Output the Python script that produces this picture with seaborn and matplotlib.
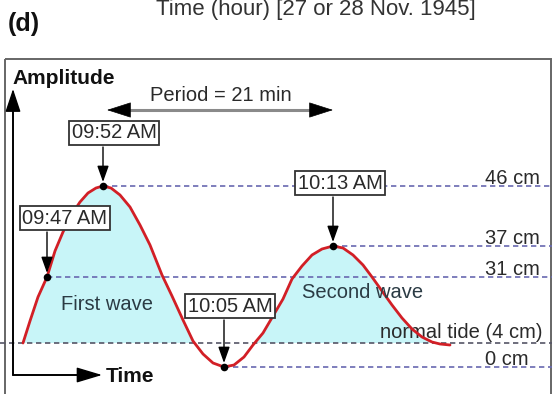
import matplotlib
matplotlib.use("Agg")
import matplotlib.pyplot as plt
from matplotlib.patches import Rectangle
import seaborn as sns

# ---------------- data (schematic positions) ----------------
# wave profile: x = schematic time position, y = schematic amplitude position (rows, downward)
wave_x = [23, 30, 38, 47, 55, 63, 72, 80, 88, 96, 103, 111, 120, 130, 140, 150,
          162, 172, 183, 193, 203, 213, 224, 234, 244, 253, 263, 273, 283, 292,
          302, 312, 322, 333, 343, 353, 363, 372, 382, 392, 402, 412, 422, 432,
          440, 450]
wave_y = [343, 321, 297, 277, 251, 232, 214, 202, 193, 188, 186, 188, 195, 207,
          225, 245, 275, 296, 320, 341, 354, 363, 367, 365, 357, 345, 333, 316,
          299, 279, 266, 255, 249, 246, 248, 255, 265, 277, 291, 305, 318, 329,
          337, 342, 344, 345]

level_labels = ["46 cm", "37 cm", "31 cm", "normal tide (4 cm)", "0 cm"]
level_y = [186, 246, 277, 343, 367]
level_start = [103, 333, 47, 0, 224]

event_labels = ["09:47 AM", "09:52 AM", "10:05 AM", "10:13 AM"]
event_x = [47, 103, 224, 333]
event_y = [277, 186, 367, 246]
box_y = [218, 133, 306, 183]
box_x = [65, 114, 230, 340]

wave_names = ["First wave", "Second wave"]
wave_name_x = [107, 363]
wave_name_y = [305, 292]

period_label = "Period = 21 min"
title_text = "Time (hour) [27 or 28 Nov. 1945]"
panel_label = "(d)"
normal_tide_y = 343

# ---------------- style ----------------
sns.set_theme(style="white")
plt.rcParams["font.family"] = ["Liberation Sans", "DejaVu Sans"]

fig = plt.figure(figsize=(5.54, 3.94), dpi=100)
ax = fig.add_axes([0, 0, 1, 1])
ax.set_xlim(0, 554)
ax.set_ylim(394, 0)
ax.axis("off")

FS = 14.5
TXT = "#2a2a2a"
DASH = "#6868b0"

# frame
ax.add_patch(Rectangle((5, 59), 546, 360, fill=False, ec="#666666", lw=1.4,
                       zorder=1, clip_on=False))

# title + panel label
ax.text(476, 15, title_text, ha="right", va="baseline", fontsize=16, color="#333333")
ax.text(8, 24, panel_label, ha="left", va="center", fontsize=18, fontweight="bold",
        color="#111111")

# fill under waves (above the normal tide)
ax.fill_between(wave_x, wave_y, normal_tide_y,
                where=[v <= normal_tide_y for v in wave_y], interpolate=True,
                color="#c8f5f8", lw=0, zorder=2)

# dashed level lines
for lab, yy, xs in zip(level_labels, level_y, level_start):
    col = "#555566" if "normal" in lab else DASH
    ax.plot([xs, 552], [yy, yy], ls=(0, (3.2, 2.2)), color=col, lw=1.2, zorder=3)
    if "normal" in lab:
        ax.text(543, yy - 5, lab, ha="right", va="baseline", fontsize=FS, color=TXT, zorder=4)
    else:
        ax.text(485, yy - 2, lab, ha="left", va="baseline", fontsize=FS, color=TXT, zorder=4)

# wave curve
sns.lineplot(x=wave_x, y=wave_y, ax=ax, sort=False, estimator=None,
             color="#d21f26", lw=2.0, zorder=5)

# event points
sns.scatterplot(x=event_x, y=event_y, ax=ax, color="black", s=30, zorder=7,
                edgecolor="black", linewidth=0)

# event boxes and arrows
for lab, ex, ey, bx, by in zip(event_labels, event_x, event_y, box_x, box_y):
    ax.text(bx, by, lab, ha="center", va="center", fontsize=FS, color=TXT, zorder=9,
            bbox=dict(boxstyle="square,pad=0.12", fc="white", ec="#333333", lw=1.3))
    ax.annotate("", xy=(ex, ey - 4), xytext=(ex, by + 14),
                arrowprops=dict(arrowstyle="-|>,head_length=0.7,head_width=0.25",
                                color="black", lw=1.0, mutation_scale=14,
                                shrinkA=0, shrinkB=0), zorder=8)

# wave names
for nm, wx, wy in zip(wave_names, wave_name_x, wave_name_y):
    ax.text(wx, wy, nm, ha="center", va="center", fontsize=FS, color="#2b3b44", zorder=6)

# period arrow
ax.plot([118, 322], [110, 110], color="#8a8a8a", lw=2.2, zorder=4)
for tip, tail in [(107, 124), (333, 316)]:
    ax.annotate("", xy=(tip, 110), xytext=(tail, 110),
                arrowprops=dict(arrowstyle="-|>,head_length=1.0,head_width=0.32",
                                color="black", lw=0.5, mutation_scale=16,
                                shrinkA=0, shrinkB=0), zorder=5)
ax.text(221, 95, period_label, ha="center", va="center", fontsize=FS, color=TXT)

# axes arrows
ax.plot([13, 13], [375, 100], color="black", lw=1.4, zorder=4)
ax.annotate("", xy=(13, 89), xytext=(13, 110),
            arrowprops=dict(arrowstyle="-|>,head_length=0.9,head_width=0.3",
                            color="black", lw=1.0, mutation_scale=16, shrinkA=0, shrinkB=0))
ax.plot([13, 92], [375, 375], color="black", lw=1.4, zorder=4)
ax.annotate("", xy=(102, 375), xytext=(82, 375),
            arrowprops=dict(arrowstyle="-|>,head_length=1.0,head_width=0.3",
                            color="black", lw=1.0, mutation_scale=16, shrinkA=0, shrinkB=0))
ax.text(12, 78, "Amplitude", ha="left", va="center", fontsize=15, fontweight="bold",
        color="#111111")
ax.text(106, 376, "Time", ha="left", va="center", fontsize=15, fontweight="bold",
        color="#111111")

fig.savefig("out.png", dpi=100)
